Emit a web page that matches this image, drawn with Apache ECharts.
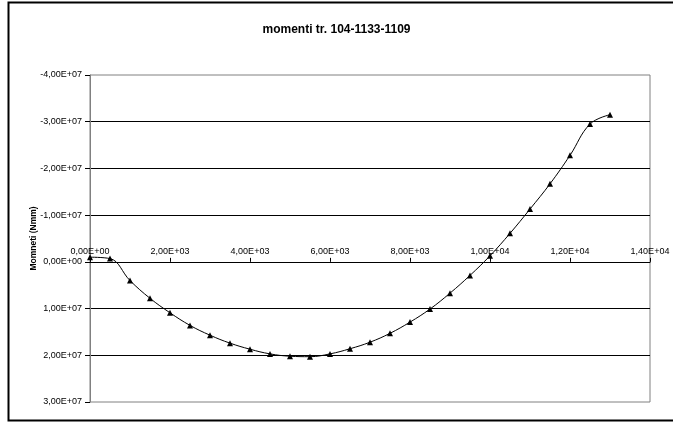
<!DOCTYPE html>
<html>
<head>
<meta charset="utf-8">
<script src="https://cdn.jsdelivr.net/npm/echarts@6/dist/echarts.min.js"></script>
<style>
html,body{margin:0;padding:0;background:#fff;}
#chart{width:673px;height:422px;}
</style>
</head>
<body>
<div id="chart"></div>
<script>
const titleText = 'momenti tr. 104-1133-1109';
const yAxisName = 'Momneti (Nmm)';
const positions = [0, 500, 1000, 1500, 2000, 2500, 3000, 3500, 4000, 4500, 5000, 5500, 6000, 6500,
  7000, 7500, 8000, 8500, 9000, 9500, 10000, 10500, 11000, 11500, 12000, 12500, 13000];
const moments = [-1.0e6, -0.7e6, 4.0e6, 7.8e6, 1.09e7, 1.36e7, 1.57e7, 1.74e7, 1.87e7, 1.97e7, 2.02e7, 2.03e7,
  1.97e7, 1.86e7, 1.72e7, 1.53e7, 1.29e7, 1.01e7, 6.7e6, 2.9e6, -1.3e6, -6.1e6, -1.13e7, -1.67e7,
  -2.28e7, -2.95e7, -3.15e7];

function sci(v) {
  if (v === 0) return '0,00E+00';
  const sign = v < 0 ? '-' : '';
  const a = Math.abs(v);
  let e = Math.floor(Math.log10(a) + 1e-9);
  let m = a / Math.pow(10, e);
  let ms = m.toFixed(2);
  if (ms === '10.00') { e += 1; ms = '1.00'; }
  const es = (e < 0 ? '-' : '+') + String(Math.abs(e)).padStart(2, '0');
  return sign + ms.replace('.', ',') + 'E' + es;
}

const data = positions.map((x, i) => [x, moments[i]]);
const font = 'Liberation Sans, Arial, sans-serif';
const gridTop = 75;

const chart = echarts.init(document.getElementById('chart'), null, {renderer: 'canvas'});
const option = {
  backgroundColor: '#fff',
  animation: false,
  title: {
    text: titleText,
    left: 'center',
    top: 19,
    textStyle: {fontFamily: font, fontSize: 12, fontWeight: 'bold', color: '#000'}
  },
  graphic: [{
    type: 'rect',
    shape: {x: 8.5, y: 2.5, width: 700, height: 418},
    style: {fill: null, stroke: '#000', lineWidth: 2},
    silent: true
  }],
  grid: {
    left: 90, right: 23, top: gridTop, bottom: 20,
    show: true, borderColor: '#808080', borderWidth: 1, backgroundColor: 'transparent'
  },
  xAxis: {
    type: 'value',
    min: 0, max: 14000, interval: 2000,
    position: 'top',
    offset: 0,
    axisLine: {show: true, onZero: false, lineStyle: {color: '#000', width: 1}},
    axisTick: {show: true, length: 4, lineStyle: {color: '#000'}},
    axisLabel: {fontFamily: font, fontSize: 9, color: '#000', margin: 6, formatter: sci, showMaxLabel: true, showMinLabel: true},
    splitLine: {show: false}
  },
  yAxis: {
    type: 'value',
    inverse: true,
    min: -4e7, max: 3e7, interval: 1e7,
    name: yAxisName,
    nameLocation: 'middle',
    nameRotate: 90,
    nameGap: 52,
    nameMoveOverlap: false,
    nameTextStyle: {fontFamily: font, fontSize: 8.5, fontWeight: 'bold', color: '#000'},
    axisLine: {show: true, onZero: false, lineStyle: {color: '#808080', width: 1}},
    axisTick: {show: true, length: 5, lineStyle: {color: '#000'}},
    axisLabel: {fontFamily: font, fontSize: 9, color: '#000', margin: 8, formatter: sci},
    splitLine: {show: true, showMinLine: false, showMaxLine: false, lineStyle: {color: '#000', width: 1}}
  },
  series: [{
    type: 'line',
    data: data,
    smooth: 0.4,
    symbol: 'triangle',
    symbolSize: 6,
    itemStyle: {color: '#000'},
    lineStyle: {color: '#000', width: 1}
  }]
};
chart.setOption(option);
const zeroY = chart.convertToPixel({yAxisIndex: 0}, 0);
chart.setOption({xAxis: {offset: -(zeroY - gridTop)}});
</script>
</body>
</html>
